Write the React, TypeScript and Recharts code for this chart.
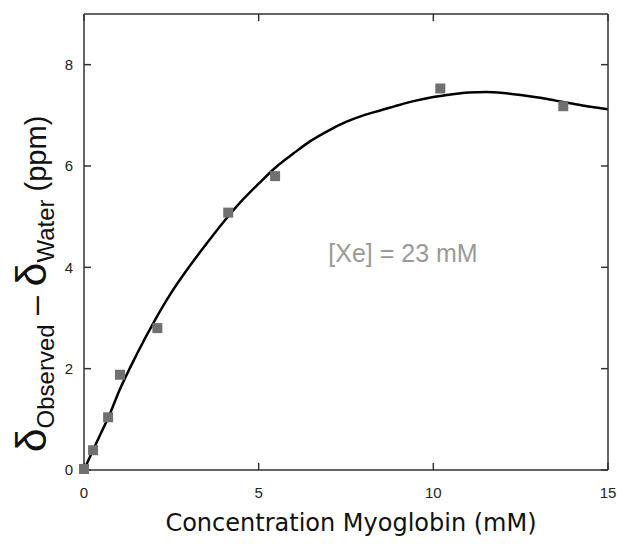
import { ComposedChart, Line, Scatter, XAxis, YAxis, ReferenceLine } from 'recharts';

// measured points (Myoglobin conc. mM vs shift ppm)
const concMM = [0, 0.26, 0.69, 1.03, 2.1, 4.13, 5.47, 10.2, 13.72];
const shiftPpm = [0.02, 0.39, 1.04, 1.88, 2.8, 5.08, 5.8, 7.53, 7.18];

// fitted curve
const fitX = [0, 0.25, 0.5, 0.7, 1, 1.5, 2, 2.5, 3, 3.5, 4, 4.5, 5, 5.5, 6, 6.5, 7, 7.5, 8, 8.5, 9, 9.5, 10, 10.5, 11, 11.5, 12, 12.5, 13, 13.5, 14, 14.5, 15];
const fitY = [0, 0.38, 0.75, 1.04, 1.55, 2.27, 2.92, 3.5, 4.0, 4.46, 4.9, 5.3, 5.65, 5.98, 6.25, 6.5, 6.7, 6.87, 7.0, 7.1, 7.2, 7.29, 7.36, 7.41, 7.45, 7.46, 7.44, 7.4, 7.35, 7.29, 7.23, 7.17, 7.12];

const xTicks = [0, 5, 10, 15];
const yTicks = [0, 2, 4, 6, 8];

const X_MAX = 15;
const Y_MAX = 9;

const points = concMM.map((x, i) => ({ x, y: shiftPpm[i] }));
const fit = fitX.map((x, i) => ({ x, y: fitY[i] }));

const FONT = '"Liberation Sans", Arial, Helvetica, sans-serif';
const AXIS = '#333';
// inward tick length, in data units (~7px)
const TX = 0.2;
const TY = 0.14;

function Square(props: any) {
  const { cx, cy } = props;
  return <rect x={cx - 5} y={cy - 5} width={10} height={10} fill="#707070" />;
}

export default function App() {
  return (
    <div style={{ position: 'absolute', left: 0, top: 0, width: 617, height: 544, background: '#fff' }}>
      <ComposedChart width={617} height={544} margin={{ top: 13, right: 8, bottom: 44, left: 54 }}>
        <XAxis
          xAxisId="b" dataKey="x" type="number" domain={[0, X_MAX]} ticks={xTicks} height={30}
          tickSize={0} tickMargin={17} tickLine={false}
          stroke={AXIS} strokeWidth={1.5}
          tick={{ fill: '#222', fontSize: 15, fontFamily: FONT }}
        />
        <XAxis
          xAxisId="t" orientation="top" dataKey="x" type="number" domain={[0, X_MAX]} ticks={xTicks} height={1}
          tick={false} tickLine={false} stroke={AXIS} strokeWidth={1.5}
        />
        <YAxis
          yAxisId="l" dataKey="y" type="number" domain={[0, Y_MAX]} ticks={yTicks} width={30}
          tickSize={0} tickMargin={11} tickLine={false}
          stroke={AXIS} strokeWidth={1.5}
          tick={{ fill: '#222', fontSize: 15, fontFamily: FONT }}
        />
        <YAxis
          yAxisId="r" orientation="right" dataKey="y" type="number" domain={[0, Y_MAX]} ticks={yTicks} width={1}
          tick={false} tickLine={false} stroke={AXIS} strokeWidth={1.5}
        />
        {xTicks.map((t) => (
          <ReferenceLine key={'xb' + t} xAxisId="b" yAxisId="l" segment={[{ x: t, y: 0 }, { x: t, y: TY }]} stroke={AXIS} strokeWidth={1.5} ifOverflow="visible" />
        ))}
        {xTicks.map((t) => (
          <ReferenceLine key={'xt' + t} xAxisId="b" yAxisId="l" segment={[{ x: t, y: Y_MAX }, { x: t, y: Y_MAX - TY }]} stroke={AXIS} strokeWidth={1.5} ifOverflow="visible" />
        ))}
        {yTicks.map((t) => (
          <ReferenceLine key={'yl' + t} xAxisId="b" yAxisId="l" segment={[{ x: 0, y: t }, { x: TX, y: t }]} stroke={AXIS} strokeWidth={1.5} ifOverflow="visible" />
        ))}
        {yTicks.map((t) => (
          <ReferenceLine key={'yr' + t} xAxisId="b" yAxisId="l" segment={[{ x: X_MAX, y: t }, { x: X_MAX - TX, y: t }]} stroke={AXIS} strokeWidth={1.5} ifOverflow="visible" />
        ))}
        <Line
          xAxisId="b" yAxisId="l" data={fit} dataKey="y" type="monotone"
          stroke="#000" strokeWidth={2.5} dot={false} isAnimationActive={false}
        />
        <Scatter
          xAxisId="b" yAxisId="l" data={points} dataKey="y" shape={Square} isAnimationActive={false}
        />
        <text x={403} y={262} textAnchor="middle" fontSize={25} fontFamily={FONT} fill="#9a9a9a">
          [Xe] = 23 mM
        </text>
        <text x={351} y={531} textAnchor="middle" fontSize={24} fontFamily='"DejaVu Sans", Verdana, sans-serif' fill="#111">
          Concentration Myoglobin (mM)
        </text>
        <text x={46} y={284} transform="rotate(-90, 46, 284)" textAnchor="middle" fontFamily={FONT} fill="#111">
          <tspan fontSize={43}>δ</tspan>
          <tspan fontSize={24} dy={8}>Observed</tspan>
          <tspan fontSize={34} dy={-8}> – </tspan>
          <tspan fontSize={43}>δ</tspan>
          <tspan fontSize={24} dy={8}>Water</tspan>
          <tspan fontSize={29} dy={-8}> (ppm)</tspan>
        </text>
      </ComposedChart>
    </div>
  );
}
